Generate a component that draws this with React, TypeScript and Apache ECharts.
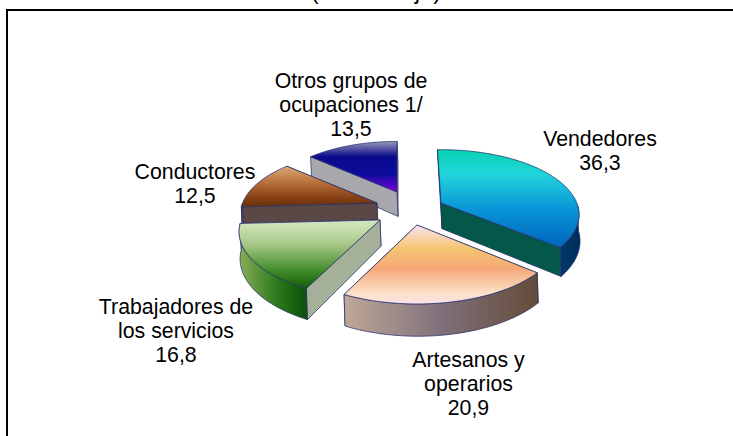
import React, { useEffect, useRef } from "react";
import * as echarts from "echarts";

const names = ["Vendedores", "Artesanos y\noperarios", "Trabajadores de\nlos servicios", "Conductores", "Otros grupos de\nocupaciones 1/"];
const values = [36.3, 20.9, 16.8, 12.5, 13.5];
const drawOrder = [4, 3, 0, 2, 1];

const RADIUS = 140;
const TILT = 0.463;
const PERSP = 0.179;
const DEPTH = 26.5;

const slices = [
  { ax: 441, ay: 203, scale: 0.97, rot: -0.03, lx: 600, ly: 151 },
  { ax: 417, ay: 225, scale: 1, rot: 0, lx: 468.5, ly: 384 },
  { ax: 380, ay: 220, scale: 0.99, rot: 0.01, lx: 176, ly: 330.5 },
  { ax: 377, ay: 203, scale: 0.96, rot: 0, lx: 195, ly: 184 },
  { ax: 397, ay: 192, scale: 0.92, rot: 0, lx: 351, ly: 105 },
];

const topStops = [
  [[0, "#08d2b0"], [0.25, "#20d4dc"], [0.6, "#0a96d8"], [1, "#0064bc"]],
  [[0, "#fbe3ee"], [0.3, "#f5c470"], [0.55, "#f6a878"], [0.85, "#fbe0c4"], [1, "#fbe2e8"]],
  [[0, "#d8e8c4"], [0.35, "#a8c888"], [0.75, "#3f8a2a"], [1, "#145c08"]],
  [[0, "#dca878"], [0.4, "#b8703c"], [0.75, "#8a4216"], [1, "#64300c"]],
  [[0, "#9898b8"], [0.3, "#0a0a8c"], [0.65, "#0c0c9c"], [1, "#7c00d8"]],
];
const sideStops = [
  [[0, "#003a64"], [1, "#002c60"]],
  [[0, "#bfa898"], [0.5, "#80707a"], [1, "#644c38"]],
  [[0, "#8cae58"], [0.55, "#2c7a1c"], [1, "#0c5008"]],
  [[0, "#5a4a40"], [1, "#5a4a40"]],
  [[0, "#a8a8ac"], [1, "#a8a8ac"]],
];
const startFace = ["#0a4a58", "#8a7a70", "#a4b09a", "#5a4846", "#a8a8ac"];
const endFace = ["#04584a", "#8a7a70", "#a4b09a", "#5a4846", "#a8a8ac"];
const EDGE = "rgba(40,50,110,0.75)";

const total = values.reduce((a, b) => a + b, 0);
const startAngles = values.map((_, i) =>
  (values.slice(0, i).reduce((a, b) => a + b, 0) / total) * Math.PI * 2
);

function project(i: number, angle: number, radius: number, lowered: boolean) {
  const sl = slices[i];
  const theta = angle + sl.rot;
  const X = radius * Math.sin(theta);
  const Y = radius * Math.cos(theta);
  const s = 1 / (1 + (PERSP * Y) / RADIUS);
  const px = sl.ax + sl.scale * s * X;
  const py = sl.ay - sl.scale * s * Y * TILT;
  return lowered ? [px + 1, py + DEPTH * s * sl.scale] : [px, py];
}

function arc(i: number, a0: number, a1: number, lowered: boolean) {
  const n = Math.max(2, Math.ceil(Math.abs(a1 - a0) / 0.03));
  const pts: number[][] = [];
  for (let k = 0; k <= n; k++) pts.push(project(i, a0 + ((a1 - a0) * k) / n, RADIUS, lowered));
  return pts;
}

function gradient(stops: any[], horizontal: boolean) {
  return new echarts.graphic.LinearGradient(
    0, 0, horizontal ? 1 : 0, horizontal ? 0 : 1,
    stops.map((s) => ({ offset: s[0], color: s[1] }))
  );
}

function radialFace(i: number, theta: number, color: string) {
  const c0 = project(i, 0, 0, false);
  const c1 = project(i, 0, 0, true);
  const o0 = project(i, theta, RADIUS, false);
  const o1 = project(i, theta, RADIUS, true);
  return {
    type: "polygon",
    shape: { points: [c0, o0, o1, c1] },
    style: { fill: color, stroke: EDGE, lineWidth: 1 },
  };
}

function renderSlice(params: any, api: any) {
  const i = api.value(1);
  const a0 = startAngles[i];
  const a1 = a0 + (api.value(0) / total) * Math.PI * 2;
  const faceA = radialFace(i, a0, startFace[i]);
  const faceB = radialFace(i, a1, endFace[i]);
  const children: any[] = Math.cos(a0) > Math.cos(a1) ? [faceA, faceB] : [faceB, faceA];

  const sideFrom = Math.max(a0, Math.PI * 0.52);
  const sideTo = Math.min(a1, Math.PI * 1.5);
  if (sideTo > sideFrom) {
    const top = arc(i, sideFrom, sideTo, false);
    const bot = arc(i, sideFrom, sideTo, true).reverse();
    children.push({
      type: "polygon",
      shape: { points: top.concat(bot) },
      style: { fill: gradient(sideStops[i], true), stroke: EDGE, lineWidth: 1 },
    });
  }

  const face = [project(i, 0, 0, false)].concat(arc(i, a0, a1, false));
  children.push({
    type: "polygon",
    shape: { points: face },
    style: { fill: gradient(topStops[i], false), stroke: EDGE, lineWidth: 1 },
  });

  children.push({
    type: "text",
    z2: 10,
    style: {
      text: names[i] + "\n" + values[i].toFixed(1).replace(".", ","),
      x: slices[i].lx,
      y: slices[i].ly,
      align: "center",
      verticalAlign: "middle",
      fill: "#000",
      font: '21.3px "Liberation Sans"',
      lineHeight: 24,
    },
  });
  return { type: "group", children };
}

export default function App() {
  const ref = useRef<HTMLDivElement>(null);
  useEffect(() => {
    const chart = echarts.init(ref.current!, null, { renderer: "svg" });
    chart.setOption({
      animation: false,
      backgroundColor: "#fff",
      graphic: [
        { type: "line", shape: { x1: 7, y1: 10, x2: 733, y2: 10 }, style: { stroke: "#000", lineWidth: 2 } },
        { type: "line", shape: { x1: 7, y1: 9, x2: 7, y2: 436 }, style: { stroke: "#000", lineWidth: 2 } },
        {
          type: "text",
          style: {
            text: "(Porcentaje)",
            x: 376,
            y: -10,
            align: "center",
            verticalAlign: "middle",
            fill: "#000",
            font: '24px "Liberation Sans"',
          },
        },
      ],
      series: [
        {
          type: "custom",
          coordinateSystem: "none",
          renderItem: renderSlice,
          data: drawOrder.map((i) => [values[i], i]),
        },
      ],
    });
    return () => chart.dispose();
  }, []);
  return <div ref={ref} style={{ position: "absolute", left: 0, top: 0, width: 733, height: 436 }} />;
}
